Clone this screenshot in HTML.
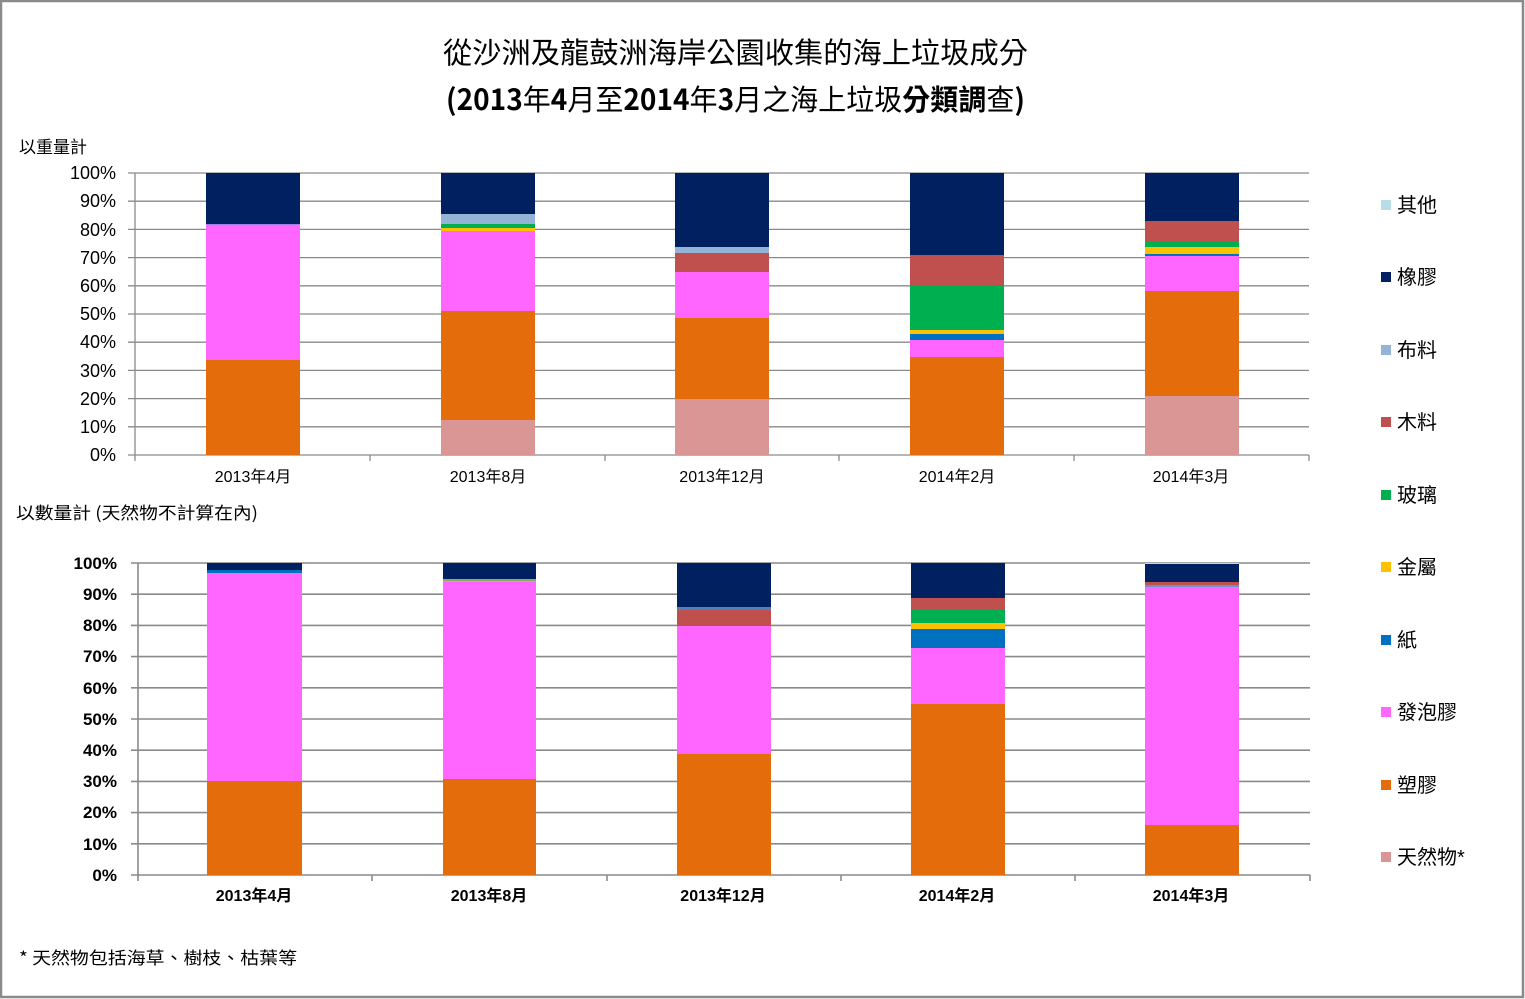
<!DOCTYPE html>
<html>
<head>
<meta charset="utf-8">
<style>
html,body{margin:0;padding:0;background:#fff;}
svg{display:block;}
text{font-family:"Liberation Sans","Noto Sans CJK TC",sans-serif;fill:#000;}
.cjk{font-family:"Noto Sans CJK TC","Liberation Sans",sans-serif;}
</style>
</head>
<body>
<svg width="1525" height="999" viewBox="0 0 1525 999" xmlns="http://www.w3.org/2000/svg">
<rect x="0" y="0" width="1525" height="999" fill="#fff"/>
<rect x="1" y="1" width="1522" height="996" fill="none" stroke="#8a8a8a" stroke-width="2.5"/>

<!-- Title -->
<text class="cjk" x="443" y="63" font-size="29" textLength="585" lengthAdjust="spacingAndGlyphs">從沙洲及龍鼓洲海岸公園收集的海上垃圾成分</text>
<text class="cjk" x="446" y="110" font-size="29" textLength="579" lengthAdjust="spacingAndGlyphs"><tspan font-weight="bold">(2013</tspan>年<tspan font-weight="bold">4</tspan>月至<tspan font-weight="bold">2014</tspan>年<tspan font-weight="bold">3</tspan>月之海上垃圾<tspan font-weight="bold">分類調</tspan>查<tspan font-weight="bold">)</tspan></text>

<!-- Top chart label -->
<text class="cjk" x="19" y="153" font-size="17">以重量計</text>

<!-- Top chart gridlines -->
<g stroke="#8a8a8a" stroke-width="1.3">
<line x1="128" y1="173" x2="1309" y2="173"/>
<line x1="128" y1="201.2" x2="1309" y2="201.2"/>
<line x1="128" y1="229.4" x2="1309" y2="229.4"/>
<line x1="128" y1="257.6" x2="1309" y2="257.6"/>
<line x1="128" y1="285.8" x2="1309" y2="285.8"/>
<line x1="128" y1="314" x2="1309" y2="314"/>
<line x1="128" y1="342.2" x2="1309" y2="342.2"/>
<line x1="128" y1="370.4" x2="1309" y2="370.4"/>
<line x1="128" y1="398.6" x2="1309" y2="398.6"/>
<line x1="128" y1="426.8" x2="1309" y2="426.8"/>
<line x1="128" y1="455" x2="1309" y2="455"/>
<line x1="135" y1="173" x2="135" y2="461"/>
<line x1="370" y1="455" x2="370" y2="461"/>
<line x1="605" y1="455" x2="605" y2="461"/>
<line x1="839" y1="455" x2="839" y2="461"/>
<line x1="1074" y1="455" x2="1074" y2="461"/>
<line x1="1309" y1="455" x2="1309" y2="461"/>
</g>

<!-- Top chart tick labels -->
<g font-size="18" text-anchor="end">
<text x="116" y="179">100%</text>
<text x="116" y="207">90%</text>
<text x="116" y="236">80%</text>
<text x="116" y="264">70%</text>
<text x="116" y="292">60%</text>
<text x="116" y="320">50%</text>
<text x="116" y="348">40%</text>
<text x="116" y="377">30%</text>
<text x="116" y="405">20%</text>
<text x="116" y="433">10%</text>
<text x="116" y="461">0%</text>
</g>

<!-- Top chart bars -->
<rect x="206" y="360" width="94" height="95" fill="#E46C0A"/>
<rect x="206" y="225" width="94" height="135" fill="#FF66FF"/>
<rect x="206" y="224" width="94" height="1" fill="#9f7fe0"/>
<rect x="206" y="173" width="94" height="51" fill="#002060"/>

<rect x="441" y="420" width="94" height="35" fill="#D99694"/>
<rect x="441" y="311" width="94" height="109" fill="#E46C0A"/>
<rect x="441" y="231" width="94" height="80" fill="#FF66FF"/>
<rect x="441" y="228" width="94" height="3" fill="#FFC000"/>
<rect x="441" y="224" width="94" height="4" fill="#00B050"/>
<rect x="441" y="214" width="94" height="10" fill="#95B3D7"/>
<rect x="441" y="173" width="94" height="41" fill="#002060"/>

<rect x="675" y="399" width="94" height="56" fill="#D99694"/>
<rect x="675" y="318" width="94" height="81" fill="#E46C0A"/>
<rect x="675" y="272" width="94" height="46" fill="#FF66FF"/>
<rect x="675" y="253" width="94" height="19" fill="#C0504D"/>
<rect x="675" y="247" width="94" height="6" fill="#95B3D7"/>
<rect x="675" y="173" width="94" height="74" fill="#002060"/>

<rect x="910" y="357" width="94" height="98" fill="#E46C0A"/>
<rect x="910" y="340" width="94" height="17" fill="#FF66FF"/>
<rect x="910" y="334" width="94" height="6" fill="#0070C0"/>
<rect x="910" y="330" width="94" height="4" fill="#FFC000"/>
<rect x="910" y="286" width="94" height="44" fill="#00B050"/>
<rect x="910" y="255" width="94" height="31" fill="#C0504D"/>
<rect x="910" y="173" width="94" height="82" fill="#002060"/>

<rect x="1145" y="396" width="94" height="59" fill="#D99694"/>
<rect x="1145" y="291" width="94" height="105" fill="#E46C0A"/>
<rect x="1145" y="256" width="94" height="35" fill="#FF66FF"/>
<rect x="1145" y="254" width="94" height="2" fill="#0070C0"/>
<rect x="1145" y="247" width="94" height="7" fill="#FFC000"/>
<rect x="1145" y="242" width="94" height="5" fill="#00B050"/>
<rect x="1145" y="221" width="94" height="21" fill="#C0504D"/>
<rect x="1145" y="173" width="94" height="48" fill="#002060"/>

<!-- Top chart category labels -->
<g font-size="16" text-anchor="middle" class="cjk">
<text x="253" y="482">2013年4月</text>
<text x="488" y="482">2013年8月</text>
<text x="722" y="482">2013年12月</text>
<text x="957" y="482">2014年2月</text>
<text x="1191" y="482">2014年3月</text>
</g>

<!-- Bottom chart label -->
<text class="cjk" x="16" y="519" font-size="17" textLength="242" lengthAdjust="spacingAndGlyphs">以數量計 (天然物不計算在內)</text>

<!-- Bottom chart gridlines -->
<g stroke="#8a8a8a" stroke-width="1.6">
<line x1="131" y1="563" x2="1310" y2="563"/>
<line x1="131" y1="594.2" x2="1310" y2="594.2"/>
<line x1="131" y1="625.4" x2="1310" y2="625.4"/>
<line x1="131" y1="656.6" x2="1310" y2="656.6"/>
<line x1="131" y1="687.8" x2="1310" y2="687.8"/>
<line x1="131" y1="719" x2="1310" y2="719"/>
<line x1="131" y1="750.2" x2="1310" y2="750.2"/>
<line x1="131" y1="781.4" x2="1310" y2="781.4"/>
<line x1="131" y1="812.6" x2="1310" y2="812.6"/>
<line x1="131" y1="843.8" x2="1310" y2="843.8"/>
<line x1="131" y1="875" x2="1310" y2="875"/>
<line x1="138" y1="563" x2="138" y2="881"/>
<line x1="372" y1="875" x2="372" y2="881"/>
<line x1="607" y1="875" x2="607" y2="881"/>
<line x1="841" y1="875" x2="841" y2="881"/>
<line x1="1075" y1="875" x2="1075" y2="881"/>
<line x1="1310" y1="875" x2="1310" y2="881"/>
</g>

<!-- Bottom chart tick labels -->
<g font-size="17" text-anchor="end" font-weight="bold" fill="#222">
<text x="117" y="569">100%</text>
<text x="117" y="600">90%</text>
<text x="117" y="631">80%</text>
<text x="117" y="662">70%</text>
<text x="117" y="694">60%</text>
<text x="117" y="725">50%</text>
<text x="117" y="756">40%</text>
<text x="117" y="787">30%</text>
<text x="117" y="818">20%</text>
<text x="117" y="850">10%</text>
<text x="117" y="881">0%</text>
</g>

<!-- Bottom chart bars -->
<rect x="207" y="781" width="95" height="94" fill="#E46C0A"/>
<rect x="207" y="573" width="95" height="208" fill="#FF66FF"/>
<rect x="207" y="570" width="95" height="3" fill="#0070C0"/>
<rect x="207" y="563" width="95" height="7" fill="#002060"/>

<rect x="443" y="779" width="93" height="96" fill="#E46C0A"/>
<rect x="443" y="582" width="93" height="197" fill="#FF66FF"/>
<rect x="443" y="581" width="93" height="1" fill="#95B3D7"/>
<rect x="443" y="580" width="93" height="1" fill="#8faa60"/>
<rect x="443" y="579" width="93" height="1" fill="#c0a030"/>
<rect x="443" y="563" width="93" height="16" fill="#002060"/>

<rect x="677" y="754" width="94" height="121" fill="#E46C0A"/>
<rect x="677" y="626" width="94" height="128" fill="#FF66FF"/>
<rect x="677" y="610" width="94" height="16" fill="#C0504D"/>
<rect x="677" y="607" width="94" height="3" fill="#4f81bd"/>
<rect x="677" y="563" width="94" height="44" fill="#002060"/>

<rect x="911" y="704" width="94" height="171" fill="#E46C0A"/>
<rect x="911" y="648" width="94" height="56" fill="#FF66FF"/>
<rect x="911" y="629" width="94" height="19" fill="#0070C0"/>
<rect x="911" y="623" width="94" height="6" fill="#FFC000"/>
<rect x="911" y="610" width="94" height="13" fill="#00B050"/>
<rect x="911" y="598" width="94" height="12" fill="#C0504D"/>
<rect x="911" y="563" width="94" height="35" fill="#002060"/>

<rect x="1145" y="825" width="94" height="50" fill="#E46C0A"/>
<rect x="1145" y="587" width="94" height="238" fill="#FF66FF"/>
<rect x="1145" y="585" width="94" height="2" fill="#6f8fd0"/>
<rect x="1145" y="582" width="94" height="3" fill="#C0504D"/>
<rect x="1145" y="564" width="94" height="18" fill="#002060"/>
<rect x="1145" y="563" width="94" height="1" fill="#B7DEE8"/>

<!-- Bottom chart category labels -->
<g font-size="16" text-anchor="middle" class="cjk" font-weight="bold" fill="#222">
<text x="254" y="901">2013年4月</text>
<text x="489" y="901">2013年8月</text>
<text x="723" y="901">2013年12月</text>
<text x="957" y="901">2014年2月</text>
<text x="1191" y="901">2014年3月</text>
</g>

<!-- Legend -->
<g class="cjk" font-size="20">
<rect x="1381" y="200" width="10" height="10" fill="#B7DEE8"/><text x="1397" y="212">其他</text>
<rect x="1381" y="272" width="10" height="10" fill="#002060"/><text x="1397" y="284">橡膠</text>
<rect x="1381" y="345" width="10" height="10" fill="#95B3D7"/><text x="1397" y="357">布料</text>
<rect x="1381" y="417" width="10" height="10" fill="#C0504D"/><text x="1397" y="429">木料</text>
<rect x="1381" y="490" width="10" height="10" fill="#00B050"/><text x="1397" y="502">玻璃</text>
<rect x="1381" y="562" width="10" height="10" fill="#FFC000"/><text x="1397" y="574">金屬</text>
<rect x="1381" y="635" width="10" height="10" fill="#0070C0"/><text x="1397" y="647">紙</text>
<rect x="1381" y="707" width="10" height="10" fill="#FF66FF"/><text x="1397" y="719">發泡膠</text>
<rect x="1381" y="780" width="10" height="10" fill="#E46C0A"/><text x="1397" y="792">塑膠</text>
<rect x="1381" y="852" width="10" height="10" fill="#D99694"/><text x="1397" y="864">天然物*</text>
</g>

<!-- Footnote -->
<text class="cjk" x="19" y="964" font-size="17" textLength="278" lengthAdjust="spacingAndGlyphs">* 天然物包括海草、樹枝、枯葉等</text>
</svg>
</body>
</html>
